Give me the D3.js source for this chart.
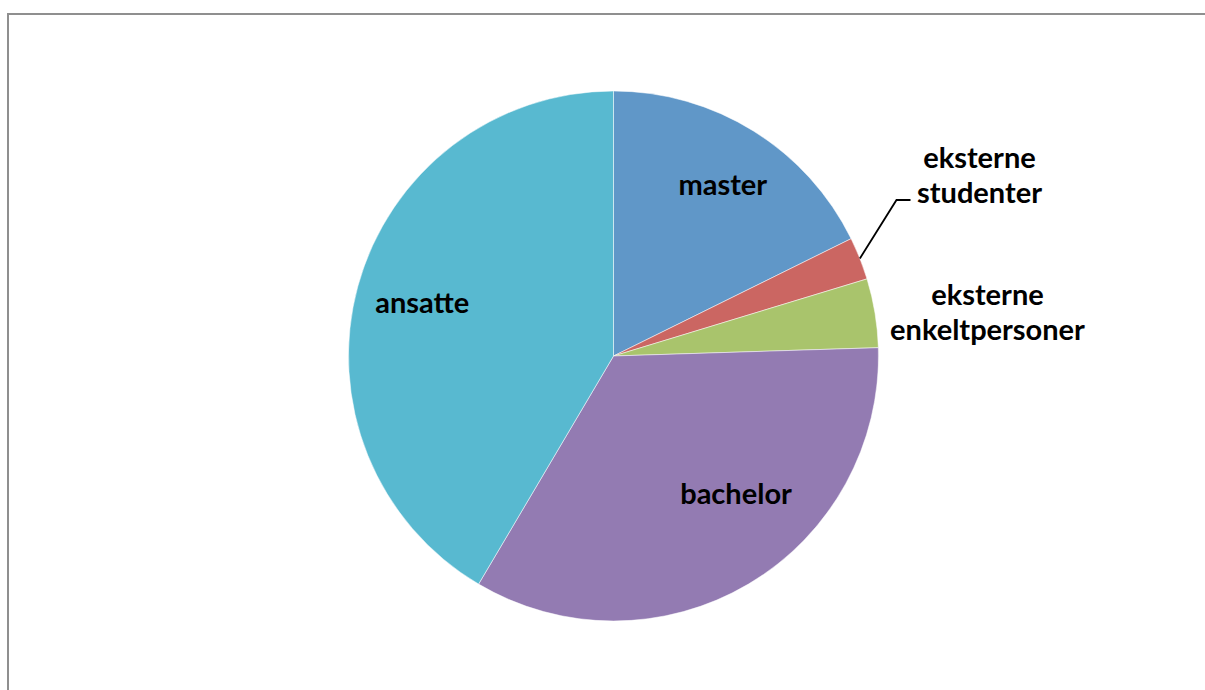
<!DOCTYPE html>
<html>
<head>
<meta charset="utf-8">
<script src="https://cdn.jsdelivr.net/npm/d3@7"></script>
<style>
  body { margin: 0; background: #fff; }
  svg text { font-family: Lato, "Liberation Sans", sans-serif; font-weight: bold; }
</style>
</head>
<body>
<script>

// data (share of the pie, in %)
var categories = ["master", "eksterne studenter", "eksterne enkeltpersoner", "bachelor", "ansatte"];
var values = [17.7, 2.6, 4.2, 34.0, 41.5];
var colors = ["#6097c8", "#cb6662", "#a9c46c", "#937bb2", "#58b9d0"];

var width = 1205;
var height = 690;

var svg = d3.select("body")
		.append("svg")
		.attr("width", width)
		.attr("height", height);

// chart frame
svg.append("path")
	.attr("d", "M8,700 L8,14 L1210,14")
	.attr("fill", "none")
	.attr("stroke", "#8f8f8f")
	.attr("stroke-width", 2);

var cx = 613.5, cy = 356, radius = 265;
var fontSize = 29;

var data = categories.map(function(c, i) {
	return { name: c, value: values[i], color: colors[i] };
});

var pie = d3.pie()
		.sort(null)
		.value(function(d) { return d.value; });

var arc = d3.arc()
		.innerRadius(0)
		.outerRadius(radius);

var g = svg.append("g")
		.attr("transform", "translate(" + cx + "," + cy + ")");

var arcs = pie(data);

g.selectAll("path.slice")
	.data(arcs)
	.enter()
	.append("path")
	.attr("class", "slice")
	.attr("d", arc)
	.attr("fill", function(d) { return d.data.color; })
	.attr("stroke", "#fff")
	.attr("stroke-width", 0.5);

// labels inside the big slices
var labelArc = d3.arc()
		.innerRadius(radius * 0.76)
		.outerRadius(radius * 0.76);

// small nudges so labels sit where excel put them
var nudge = { "master": [3, 0], "ansatte": [3, 0], "bachelor": [20, -36] };

g.selectAll("text.inner")
	.data(arcs.filter(function(d) { return d.data.value > 10; }))
	.enter()
	.append("text")
	.attr("class", "inner")
	.attr("transform", function(d) {
		var c = labelArc.centroid(d);
		var n = nudge[d.data.name] || [0, 0];
		return "translate(" + (c[0] + n[0]) + "," + (c[1] + n[1]) + ")";
	})
	.attr("text-anchor", "middle")
	.attr("dy", "0.35em")
	.attr("font-size", fontSize)
	.attr("fill", "#000")
	.text(function(d) { return d.data.name; });

// outside labels for the two thin slices
var outside = {
	"eksterne studenter": [366, -198],
	"eksterne enkeltpersoner": [374, -61]
};

arcs.filter(function(d) { return d.data.value <= 10; }).forEach(function(d) {
	var pos = outside[d.data.name];
	var words = d.data.name.split(" ");
	var t = g.append("text")
		.attr("text-anchor", "middle")
		.attr("font-size", fontSize)
		.attr("fill", "#000");
	words.forEach(function(w, i) {
		t.append("tspan")
			.attr("x", pos[0])
			.attr("y", pos[1] + i * 35)
			.attr("dy", "0.35em")
			.text(w);
	});
});

// leader line for eksterne studenter
var stud = arcs[1];
var mid = (stud.startAngle + stud.endAngle) / 2;
var p0 = [Math.sin(mid) * radius, -Math.cos(mid) * radius];
g.append("polyline")
	.attr("points", [p0, [283, -156], [297, -156]].map(function(p) { return p.join(","); }).join(" "))
	.attr("fill", "none")
	.attr("stroke", "#000")
	.attr("stroke-width", 1.8);

</script>
</body>
</html>
